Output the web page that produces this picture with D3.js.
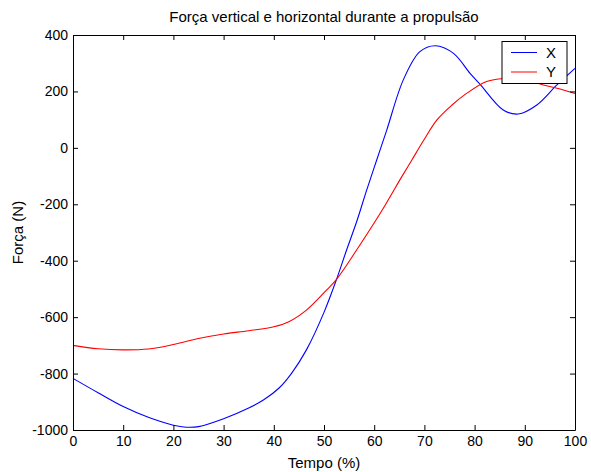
<!DOCTYPE html>
<html><head><meta charset="utf-8">
<script src="https://cdn.jsdelivr.net/npm/d3@7"></script>
<style>body{margin:0;background:#fff}svg{display:block}text{font-family:Arial,"Liberation Sans",sans-serif;}</style>
</head><body>
<script>
const xTicks = [0,10,20,30,40,50,60,70,80,90,100];
const yTicks = [-1000,-800,-600,-400,-200,0,200,400];
const seriesNames = ["X","Y"];
const seriesColors = ["#0000ff","#ff0000"];
const xX = [0,5,10,15,20,22.5,25,30,35,38,41,43.5,46.5,50,52.5,54.5,56.5,58.5,60.5,62.5,65.8,69.1,72.2,75.8,79.1,81.1,85.7,88.7,92.4,96.4,100];
const xY = [-817,-868,-917,-955,-983,-990,-988,-960,-922,-893,-852,-800,-716,-583,-466,-362,-262,-150,-43,63,241,341,362,335,264,225,134,120,152,223,282];
const yX = [0,5,10,15,20,25,30,35,40,43,46.5,50.5,52.5,56.5,61.2,65.5,67.5,69.8,72.5,75.5,78.4,82.4,85.7,88,90,93.7,96.4,100];
const yY = [-700,-712,-716,-713,-697,-676,-660,-648,-634,-616,-575,-504,-466,-362,-232,-102,-43,25,99,152,193,235,246,248,243,223,211,193];

const W=591,H=472, L=73,R=575,T=35,B=430;
const FS=14, FL=15;
const svg=d3.select("body").append("svg").attr("width",W).attr("height",H);
const x=d3.scaleLinear().domain([0,100]).range([L,R]);
const y=d3.scaleLinear().domain([-1000,400]).range([B,T]);

const series=[xX.map((d,i)=>[d,xY[i]]), yX.map((d,i)=>[d,yY[i]])];
const line=d3.line().x(d=>x(d[0])).y(d=>y(d[1])).curve(d3.curveCatmullRom.alpha(0.5));
series.forEach((s,i)=>svg.append("path").attr("d",line(s)).attr("fill","none").attr("stroke",seriesColors[i]).attr("stroke-width",1.1));

const tl=5, fmt=d=>String(d);
const axB=svg.append("g").attr("transform",`translate(0,${B})`).call(d3.axisBottom(x).tickValues(xTicks).tickSizeInner(-tl).tickSizeOuter(0).tickPadding(6).tickFormat(fmt));
const axT=svg.append("g").attr("transform",`translate(0,${T})`).call(d3.axisTop(x).tickValues(xTicks).tickSizeInner(-tl).tickSizeOuter(0).tickFormat(""));
const axL=svg.append("g").attr("transform",`translate(${L},0)`).call(d3.axisLeft(y).tickValues(yTicks).tickSizeInner(-tl).tickSizeOuter(0).tickPadding(5).tickFormat(fmt));
const axR=svg.append("g").attr("transform",`translate(${R},0)`).call(d3.axisRight(y).tickValues(yTicks).tickSizeInner(-tl).tickSizeOuter(0).tickFormat(""));
[axB,axT,axL,axR].forEach(a=>{a.select(".domain").attr("stroke","#000");a.selectAll(".tick line").attr("stroke","#000");a.selectAll("text").attr("font-size",FS).attr("fill","#000").attr("font-family","Arial, Liberation Sans, sans-serif");});

svg.append("text").attr("x",(L+R)/2).attr("y",22).attr("text-anchor","middle").attr("font-size",FL).text("Força vertical e horizontal durante a propulsão");
svg.append("text").attr("x",(L+R)/2).attr("y",468).attr("text-anchor","middle").attr("font-size",FL).text("Tempo (%)");
svg.append("text").attr("transform",`translate(23,${(T+B)/2}) rotate(-90)`).attr("text-anchor","middle").attr("font-size",FL).text("Força (N)");

const lg=svg.append("g");
lg.append("rect").attr("x",502).attr("y",41.5).attr("width",65).attr("height",42).attr("fill","#fff").attr("stroke","#000");
seriesNames.forEach((n,i)=>{
  const yy=52.5+i*19.5;
  lg.append("line").attr("x1",511).attr("x2",537).attr("y1",yy).attr("y2",yy).attr("stroke",seriesColors[i]);
  lg.append("text").attr("x",546).attr("y",yy+5).attr("font-size",FS+1).text(n);
});
</script>
</body></html>
